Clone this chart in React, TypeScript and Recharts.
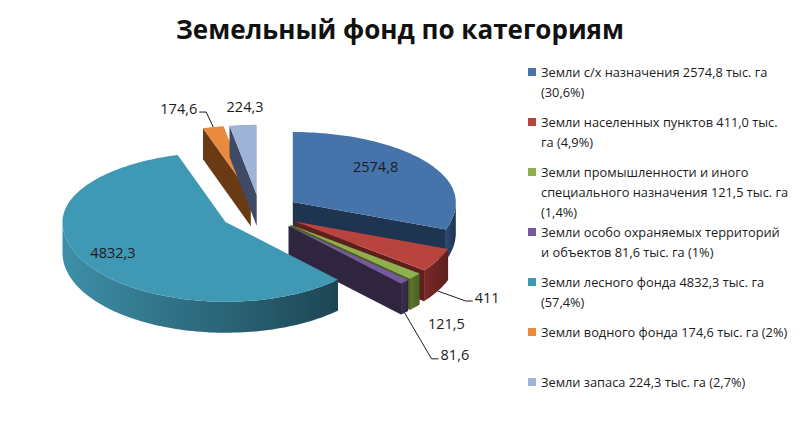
import React from 'react'
import { PieChart, Pie, Legend } from 'recharts'

// Земельный фонд по категориям, тыс. га
const categories = [
  'Земли с/х назначения',
  'Земли населенных пунктов',
  'Земли промышленности и иного специального назначения',
  'Земли особо охраняемых территорий и объектов',
  'Земли лесного фонда',
  'Земли водного фонда',
  'Земли запаса',
]
const areas = [2574.8, 411.0, 121.5, 81.6, 4832.3, 174.6, 224.3]
const shares = ['30,6', '4,9', '1,4', '1', '57,4', '2', '2,7']

const topColors = ['#4674aa', '#b8433f', '#8fb04e', '#7659a0', '#3f98b4', '#e98a3c', '#9fb3d8']
const sideColors = ['#1e3450', '#5e1f1d', '#4a5f24', '#30253f', '#1d4654', '#6a3a14', '#3e4a66']
const sideLight = ['#2a4a73', '#7a2a27', '#5d7630', '#3d3052', '#3d8fa8', '#8a4c1c', '#55648a']

const tableData = categories.map((name, i) => ({ name, value: areas[i], fill: topColors[i] }))

const CX = 255
const CY = 207
const R = 163
const K_BACK = 0.43 // squash of the far half of the ellipse
const K_FRONT = 0.49 // near half is a bit taller (perspective)
const DEPTH = 31
const EXPLODE = 40
const RAD = Math.PI / 180

// label placement: inside labels by radius ratio, outside ones by offset from the slice edge
const labelLayout: any[] = [
  { inside: 0.62, dy: -11 },
  { dx: 37, dy: 6, line: true, anchor: 'start' },
  { dx: 13, dy: 16, anchor: 'start' },
  { dx: 36, dy: 42, line: true, anchor: 'start' },
  { inside: 0.8, dy: -2 },
  { dx: -16, dy: -19, line: true, anchor: 'end' },
  { dx: 2, dy: -19, anchor: 'middle' },
]

const fmtLabel = (v: number) => String(v).replace('.', ',')
const fmtLegend = (v: number) => v.toFixed(1).replace('.', ',')

const pt = (ox: number, oy: number, r: number, a: number) => {
  const s = Math.sin(-a * RAD)
  return [ox + r * Math.cos(-a * RAD), oy + r * s * (s > 0 ? K_FRONT : K_BACK)]
}

const apex = (cx: number, cy: number, mid: number) => pt(cx, cy, EXPLODE, mid)

const idxOf = (p: any) => {
  if (typeof p.index === 'number') return p.index
  const name = p.name ?? p.payload?.name
  return categories.indexOf(name)
}

const poly = (pts: number[][]) => 'M' + pts.map((p) => p[0].toFixed(1) + ',' + p[1].toFixed(1)).join('L') + 'Z'

function Slice3D(props: any) {
  const { cx, cy, outerRadius, startAngle, endAngle, midAngle } = props
  const i = idxOf(props)
  const [ox, oy] = apex(cx, cy, midAngle)
  const steps = Math.max(2, Math.ceil(Math.abs(endAngle - startAngle) / 1.5))
  const arc: number[][] = []
  const angs: number[] = []
  for (let s = 0; s <= steps; s++) {
    const a = startAngle + ((endAngle - startAngle) * s) / steps
    angs.push(a)
    arc.push(pt(ox, oy, outerRadius, a))
  }
  const down = (p: number[]) => [p[0], p[1] + DEPTH]
  const parts: React.ReactNode[] = []
  const gid = 'side-grad-' + i

  // outer wall, only where it faces the viewer (lower half)
  let seg: number[][] = []
  const walls: number[][][] = []
  angs.forEach((a, s) => {
    if (Math.sin(-a * RAD) > -0.02) seg.push(arc[s])
    else if (seg.length) {
      walls.push(seg)
      seg = []
    }
  })
  if (seg.length) walls.push(seg)
  walls.forEach((w, j) => {
    if (w.length < 2) return
    const pts = [...w, ...w.slice().reverse().map(down)]
    parts.push(<path key={'w' + j} d={poly(pts)} fill={`url(#${gid})`} stroke="none" />)
  })

  const a0 = arc[0]
  const a1 = arc[arc.length - 1]
  if (Math.cos(startAngle * RAD) < 0) {
    parts.push(<path key="fs" d={poly([[ox, oy], a0, down(a0), down([ox, oy])])} fill={sideColors[i]} />)
  }
  if (Math.cos(endAngle * RAD) > 0) {
    parts.push(<path key="fe" d={poly([[ox, oy], a1, down(a1), down([ox, oy])])} fill={sideColors[i]} />)
  }
  parts.push(<path key="top" d={poly([[ox, oy], ...arc])} fill={topColors[i]} />)

  return (
    <g>
      <defs>
        <linearGradient id={gid} x1="0" y1="0" x2="1" y2="0">
          <stop offset="0%" stopColor={sideLight[i]} />
          <stop offset="100%" stopColor={sideColors[i]} />
        </linearGradient>
      </defs>
      {parts}
    </g>
  )
}

function SliceLabel(props: any) {
  const { cx, cy, outerRadius, midAngle, value } = props
  const i = idxOf(props)
  const cfg = labelLayout[i]
  const [ox, oy] = apex(cx, cy, midAngle)
  const text = fmtLabel(value)
  const style = { fontFamily: '"Open Sans", sans-serif', fontSize: 14.5, fill: '#1c1c1c' }
  if (cfg.inside) {
    const [x, y] = pt(ox, oy, outerRadius * cfg.inside, midAngle)
    return (
      <text x={x} y={y + cfg.dy} textAnchor="middle" dominantBaseline="central" style={style}>
        {text}
      </text>
    )
  }
  const edge = pt(ox, oy, outerRadius, midAngle)
  const lower = Math.sin(-midAngle * RAD) > 0
  const ax = edge[0]
  const ay = edge[1] + (lower ? DEPTH : 0)
  const tx = ax + cfg.dx
  const ty = ay + cfg.dy
  const side = cfg.anchor === 'end' ? 1 : -1
  return (
    <g>
      {cfg.line && (
        <polyline
          points={`${ax},${ay} ${tx + side * 9},${ty + 4} ${tx + side * 2},${ty + 4}`}
          fill="none"
          stroke="#1c1c1c"
          strokeWidth={1}
        />
      )}
      <text x={tx} y={ty} textAnchor={cfg.anchor} dominantBaseline="central" style={style}>
        {text}
      </text>
    </g>
  )
}

function LegendBox() {
  return (
    <div style={{ fontFamily: '"Open Sans", sans-serif', fontSize: 12.8, lineHeight: '20px', color: '#1c1c1c' }}>
      {categories.map((name, i) => (
        <div key={name} style={{ position: 'relative', paddingLeft: 14, minHeight: 50, boxSizing: 'border-box' }}>
          <span
            style={{ position: 'absolute', left: 1, top: 6, width: 8, height: 8, background: topColors[i] }}
          />
          {`${name} ${fmtLegend(areas[i])} тыс. га (${shares[i]}%)`}
        </div>
      ))}
    </div>
  )
}

export default function App() {
  return (
    <div style={{ position: 'absolute', left: 0, top: 0, width: 800, height: 429, background: '#fff' }}>
      <div
        style={{
          position: 'absolute',
          left: 0,
          top: 11,
          width: 800,
          textAlign: 'center',
          fontFamily: '"Open Sans", sans-serif',
          fontWeight: 700,
          fontSize: 26,
          color: '#111',
        }}
      >
        Земельный фонд по категориям
      </div>
      <div style={{ position: 'absolute', left: 0, top: 0 }}>
        <PieChart width={800} height={429}>
          <Pie
            data={tableData}
            dataKey="value"
            nameKey="name"
            cx={CX}
            cy={CY}
            outerRadius={R}
            startAngle={90}
            endAngle={-270}
            stroke="none"
            shape={Slice3D}
            activeShape={Slice3D}
            inactiveShape={Slice3D}
            label={SliceLabel}
            labelLine={false}
            isAnimationActive={false}
          />
          <Legend
            layout="vertical"
            align="right"
            verticalAlign="top"
            content={<LegendBox />}
            wrapperStyle={{ left: 527, top: 62, width: 264 }}
          />
        </PieChart>
      </div>
    </div>
  )
}
